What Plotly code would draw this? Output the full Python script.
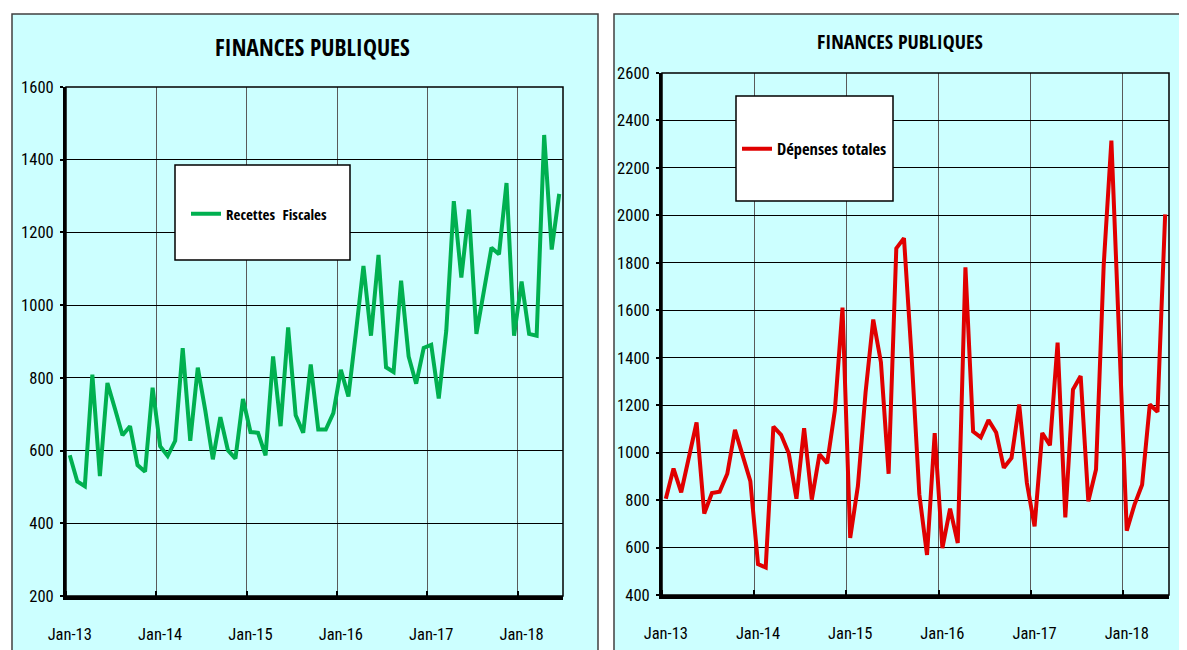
import plotly.graph_objects as go

W, H = 1187, 650
OFF = 8  # page body margin

tick_labels = ["Jan-13", "Jan-14", "Jan-15", "Jan-16", "Jan-17", "Jan-18"]
tick_pos = [0, 12, 24, 36, 48, 60]
months = list(range(66))

recettes = [587, 515, 502, 809, 530, 786, 715, 642, 667, 560, 542, 773,
            612, 585, 627, 882, 627, 828, 710, 576, 692, 601, 578, 742,
            651, 649, 587, 859, 667, 939, 697, 649, 837, 658, 658, 703,
            822, 749, 925, 1108, 916, 1138, 829, 816, 1067, 859, 784, 882,
            891, 743, 930, 1286, 1076, 1263, 921, 1040, 1158, 1140, 1336, 916,
            1065, 921, 916, 1468, 1153, 1306]

depenses = [806, 933, 833, 980, 1127, 743, 830, 835, 911, 1096, 990, 880,
            530, 516, 1110, 1075, 997, 806, 1103, 802, 993, 955, 1177, 1611,
            640, 859, 1254, 1561, 1381, 911, 1861, 1904, 1400, 824, 569, 1082,
            598, 764, 619, 1781, 1089, 1064, 1137, 1085, 936, 978, 1203, 872,
            689, 1083, 1031, 1464, 727, 1266, 1323, 795, 929, 1790, 2315, 1450,
            671, 780, 865, 1203, 1172, 2004]

FONT = "Roboto Condensed, DejaVu Sans Condensed, Liberation Sans, sans-serif"
BFONT = "Open Sans Condensed, Roboto Condensed, DejaVu Sans Condensed, sans-serif"


def px(x):
    return (x - OFF) / W


def py(y):
    return 1 - (y - OFF) / H


fig = go.Figure()
fig.add_trace(go.Scatter(x=months, y=recettes, mode="lines", name="Recettes  Fiscales",
                         line=dict(color="#00B050", width=4), xaxis="x", yaxis="y",
                         legend="legend"))
fig.add_trace(go.Scatter(x=months, y=depenses, mode="lines", name="Dépenses totales",
                         line=dict(color="#E00000", width=4), xaxis="x2", yaxis="y2",
                         legend="legend2"))


def xaxis_cfg(domain, anchor):
    return dict(domain=domain, anchor=anchor, range=[-0.5, 65.5], automargin=False,
                tickmode="array", tickvals=tick_pos, ticktext=tick_labels,
                ticks="", showgrid=False, zeroline=False,
                showline=True, linecolor="black", linewidth=4,
                ticklabelstandoff=20,
                tickfont=dict(family=FONT, size=16.5, color="black"),
                minor=dict(tickmode="linear", tick0=-0.5, dtick=12, showgrid=True,
                           gridcolor="#5a5a5a", gridwidth=1, ticks="inside",
                           ticklen=5, tickwidth=2, tickcolor="black"))


def yaxis_cfg(domain, anchor, rng):
    return dict(domain=domain, anchor=anchor, range=rng, dtick=200, tick0=0,
                automargin=False,
                ticks="outside", ticklen=3, tickwidth=2, tickcolor="black",
                ticklabelstandoff=3,
                showgrid=True, gridcolor="black", gridwidth=1, zeroline=False,
                showline=True, linecolor="black", linewidth=3,
                tickfont=dict(family=FONT, size=16.5, color="black"))


L = dict(x0=66, x1=563, y0=87, y1=596)
R = dict(x0=662, x1=1169, y0=73, y1=595)

fig.update_layout(
    template="none",
    width=W, height=H,
    margin=dict(l=0, r=0, t=0, b=0, pad=0),
    paper_bgcolor="white", plot_bgcolor="white",
    font=dict(family=FONT, color="black"),
    xaxis=xaxis_cfg([px(L["x0"]), px(L["x1"])], "y"),
    yaxis=yaxis_cfg([py(L["y1"]), py(L["y0"])], "x", [200, 1600]),
    xaxis2=xaxis_cfg([px(R["x0"]), px(R["x1"])], "y2"),
    yaxis2=yaxis_cfg([py(R["y1"]), py(R["y0"])], "x2", [400, 2600]),
    showlegend=True,
    legend=dict(x=px(186), y=py(214), xanchor="left", yanchor="middle",
                bgcolor="rgba(0,0,0,0)", borderwidth=0,
                font=dict(family=BFONT, size=15, color="black", weight="bold")),
    legend2=dict(x=px(737), y=py(149), xanchor="left", yanchor="middle",
                 bgcolor="rgba(0,0,0,0)", borderwidth=0,
                 font=dict(family=BFONT, size=16.5, color="black", weight="bold")),
)

shapes = [
    # panel backgrounds
    dict(type="rect", xref="paper", yref="paper", x0=px(12), x1=px(598), y0=py(14), y1=py(670),
         fillcolor="#CCFFFF", line=dict(color="#404040", width=1.5), layer="below"),
    dict(type="rect", xref="paper", yref="paper", x0=px(614), x1=px(1205), y0=py(14), y1=py(670),
         fillcolor="#CCFFFF", line=dict(color="#404040", width=1.5), layer="below"),
    # plot frames (top/right borders)
    dict(type="rect", xref="x domain", yref="y domain", x0=0, x1=1, y0=0, y1=1,
         line=dict(color="black", width=1.5), layer="above"),
    dict(type="rect", xref="x2 domain", yref="y2 domain", x0=0, x1=1, y0=0, y1=1,
         line=dict(color="black", width=1.5), layer="above"),
    # legend boxes
    dict(type="rect", xref="paper", yref="paper", x0=px(175), x1=px(350), y0=py(165), y1=py(260),
         fillcolor="white", line=dict(color="black", width=1.5), layer="above"),
    dict(type="rect", xref="paper", yref="paper", x0=px(736), x1=px(893), y0=py(96), y1=py(201),
         fillcolor="white", line=dict(color="black", width=1.5), layer="above"),
]
fig.update_layout(shapes=shapes)

fig.add_annotation(text="<b>FINANCES PUBLIQUES</b>", xref="paper", yref="paper",
                   x=px(313), y=py(47), showarrow=False, xanchor="center", yanchor="middle",
                   font=dict(family=BFONT, size=23.5, color="black"))
fig.add_annotation(text="<b>FINANCES PUBLIQUES</b>", xref="paper", yref="paper",
                   x=px(900), y=py(42), showarrow=False, xanchor="center", yanchor="middle",
                   font=dict(family=BFONT, size=20, color="black"))

fig.write_html("out.html")
